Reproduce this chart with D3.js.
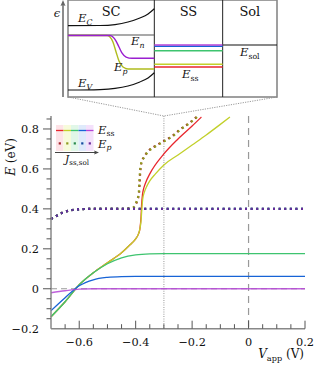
<!DOCTYPE html>
<html>
<head>
<meta charset="utf-8">
<script src="https://cdn.jsdelivr.net/npm/d3@7"></script>
<style>
  body { margin: 0; background: #fff; }
</style>
</head>
<body>
<div id="vis"></div>
<script>
// Display constants
var viewWidth = 316
var viewHeight = 366
var fontFamily = "'DejaVu Serif', serif"

// ---- main plot data: [V_app (V), E (eV)] ----
var seriesNames = ["red", "yellow", "green", "blue", "purple"]
var lineColors = ["#e8262d", "#c2d02a", "#3ec46f", "#1763d6", "#b444d6"]
var dotColors = ["#a32228", "#8f9a1e", "#2a8a4d", "#154a9e", "#652a98"]
var paleColors = ["#fde3e7", "#f7fbdb", "#e1f7e8", "#dfeafb", "#f4e1fb"]

var essRed = [[-0.7,-0.14],[-0.65,-0.065],[-0.6,0.02],[-0.55,0.08],[-0.5,0.13],[-0.45,0.18],[-0.42,0.22],[-0.4,0.25],[-0.39,0.275],[-0.385,0.30],[-0.381,0.36],[-0.379,0.42],[-0.376,0.47],[-0.372,0.5],[-0.365,0.53],[-0.35,0.575],[-0.3,0.675],[-0.25,0.75],[-0.2,0.815],[-0.167,0.86]]
var essYellow = [[-0.7,-0.14],[-0.65,-0.065],[-0.6,0.02],[-0.55,0.08],[-0.5,0.13],[-0.45,0.18],[-0.42,0.22],[-0.4,0.25],[-0.39,0.275],[-0.385,0.30],[-0.381,0.34],[-0.378,0.40],[-0.375,0.45],[-0.37,0.48],[-0.36,0.515],[-0.35,0.54],[-0.33,0.575],[-0.3,0.62],[-0.25,0.67],[-0.2,0.72],[-0.15,0.77],[-0.1,0.823],[-0.066,0.86]]
var essGreen = [[-0.7,-0.14],[-0.65,-0.065],[-0.6,0.02],[-0.55,0.08],[-0.5,0.125],[-0.45,0.155],[-0.4,0.17],[-0.35,0.175],[-0.3,0.176],[0.2,0.176]]
var essBlue = [[-0.7,-0.11],[-0.65,-0.045],[-0.6,0.015],[-0.55,0.045],[-0.5,0.057],[-0.45,0.061],[-0.4,0.062],[0.2,0.062]]
var essPurple = [[-0.7,-0.02],[-0.65,-0.01],[-0.6,-0.002],[-0.55,0],[0.2,0]]

var epFlat = [[-0.7,0.35],[-0.68,0.365],[-0.66,0.38],[-0.64,0.39],[-0.6,0.398],[-0.55,0.40],[0.2,0.40]]
var epRed = [[-0.7,0.35],[-0.68,0.365],[-0.66,0.38],[-0.64,0.39],[-0.6,0.398],[-0.55,0.40],[-0.45,0.40],[-0.41,0.405],[-0.395,0.44],[-0.388,0.48],[-0.386,0.53],[-0.384,0.58],[-0.38,0.63],[-0.37,0.66],[-0.355,0.69],[-0.33,0.715],[-0.3,0.74],[-0.27,0.765],[-0.24,0.8],[-0.21,0.83],[-0.18,0.865]]
var epYellow = [[-0.7,0.35],[-0.68,0.365],[-0.66,0.38],[-0.64,0.39],[-0.6,0.398],[-0.55,0.40],[-0.45,0.40],[-0.41,0.406],[-0.396,0.44],[-0.389,0.48],[-0.387,0.53],[-0.385,0.58],[-0.381,0.625],[-0.371,0.656],[-0.356,0.686],[-0.331,0.712],[-0.301,0.737],[-0.271,0.762],[-0.241,0.797],[-0.211,0.827],[-0.181,0.862]]

var essSeries = [essRed, essYellow, essGreen, essBlue, essPurple]
var epSeries = [epRed, epYellow, epFlat, epFlat, epFlat]

var xTickLabels = [-0.6, -0.4, -0.2, 0, 0.2]
var yTickLabels = [-0.2, 0, 0.2, 0.4, 0.6, 0.8]
var xMinorTicks = d3.range(-0.65, 0.201, 0.05)
var yMinorTicks = d3.range(-0.15, 0.86, 0.05)
var markerV = [-0.3, 0]   // dotted and dashed verticals

// ---- inset schematic data: [position (0-100), energy (0-1)] ----
var sectionEdges = [0, 41.3, 74, 100]
var sectionNames = ["SC", "SS", "Sol"]
var bandEC = [[0,0.735],[15.3,0.737],[22.5,0.747],[28.7,0.773],[34.4,0.814],[38.3,0.856],[41.3,0.91]]
var bandEV = [[0,0.072],[15.3,0.077],[22.5,0.088],[28.7,0.113],[34.4,0.155],[38.3,0.196],[41.3,0.25]]
var fermiDark = 0.639
var quasiEn = [[0,0.634],[20.1,0.634],[21.5,0.619],[23,0.577],[24.4,0.515],[25.8,0.454],[27.8,0.412],[30.6,0.399],[41.3,0.399]]
var quasiEp = [[0,0.634],[18.7,0.634],[20.1,0.619],[21.5,0.567],[23,0.464],[24.4,0.371],[26.3,0.309],[28.7,0.289],[41.3,0.289]]
var ssLevels = [0.309, 0.337, 0.477, 0.523, 0.536]   // red, yellow, green, blue, purple
var solLevel = 0.536

var svg = d3.select("#vis").append("svg")
  .attr("width", viewWidth)
  .attr("height", viewHeight)
  .attr("font-family", fontFamily)
  .style("font-family", fontFamily)

// scales
var xScale = d3.scaleLinear().domain([-0.7, 0.2]).range([51, 305])
var yScale = d3.scaleLinear().domain([-0.2, 0.865]).range([328.7, 116])
var ix = d3.scaleLinear().domain([0, 100]).range([68, 277])
var iy = d3.scaleLinear().domain([0, 1]).range([97, 0])

var line = d3.line().x(d => xScale(d[0])).y(d => yScale(d[1])).curve(d3.curveMonotoneX)
var iline = d3.line().x(d => ix(d[0])).y(d => iy(d[1])).curve(d3.curveMonotoneX)

function subText(g, x, y, main, sub, size, subItalic, anchor) {
  var t = g.append("text").attr("x", x).attr("y", y)
    .attr("font-size", size).attr("text-anchor", anchor || "start").attr("fill", "#111")
  t.append("tspan").attr("font-style", "italic").text(main)
  t.append("tspan").attr("font-size", size * 0.68).attr("dy", size * 0.25)
    .attr("font-style", subItalic ? "italic" : "normal").text(sub)
  return t
}

// ---- reference lines ----
svg.append("line")
  .attr("x1", xScale(-0.7)).attr("x2", xScale(0.2))
  .attr("y1", yScale(0)).attr("y2", yScale(0))
  .attr("stroke", "#999").attr("stroke-width", 1.1).attr("stroke-dasharray", "6,4")
svg.append("line")
  .attr("x1", xScale(markerV[0])).attr("x2", xScale(markerV[0]))
  .attr("y1", yScale(0.865)).attr("y2", yScale(-0.2))
  .attr("stroke", "#aaa").attr("stroke-width", 1.2).attr("stroke-dasharray", "1,1.3")
svg.append("line")
  .attr("x1", xScale(markerV[1])).attr("x2", xScale(markerV[1]))
  .attr("y1", yScale(0.865)).attr("y2", yScale(-0.2))
  .attr("stroke", "#999").attr("stroke-width", 1.2).attr("stroke-dasharray", "7,5")

// zoom lines from inset to the marker
;[0, 100].forEach(function(p) {
  svg.append("line")
    .attr("x1", ix(p)).attr("y1", iy(0))
    .attr("x2", xScale(markerV[0])).attr("y2", yScale(0.865))
    .attr("stroke", "#999").attr("stroke-width", 1).attr("stroke-dasharray", "1.2,1.2")
})

// ---- curves ----
essSeries.forEach(function(s, i) {
  svg.append("path").datum(s)
    .attr("d", line).attr("fill", "none")
    .attr("stroke", lineColors[i]).attr("stroke-width", 1.3)
    .attr("opacity", i === 4 ? 0.85 : 1)
})
epSeries.forEach(function(s, i) {
  svg.append("path").datum(s)
    .attr("d", line).attr("fill", "none")
    .attr("stroke", dotColors[i]).attr("stroke-width", 2.2)
    .attr("stroke-dasharray", "2,3.6")
})

// ---- axes ----
var axisColor = "#888"
var ax = svg.append("g")
ax.append("line").attr("x1", xScale(-0.7)).attr("x2", xScale(-0.7))
  .attr("y1", yScale(0.865)).attr("y2", yScale(-0.2))
  .attr("stroke", axisColor).attr("stroke-width", 1.5)
ax.append("line").attr("x1", xScale(-0.7)).attr("x2", xScale(0.2))
  .attr("y1", yScale(-0.2)).attr("y2", yScale(-0.2))
  .attr("stroke", axisColor).attr("stroke-width", 1.5)

ax.selectAll(".xminor").data(xMinorTicks).enter().append("line")
  .attr("x1", d => xScale(d)).attr("x2", d => xScale(d))
  .attr("y1", yScale(-0.2)).attr("y2", d => yScale(-0.2) - (xTickLabels.some(t => Math.abs(t - d) < 1e-6) ? 8 : 4.5))
  .attr("stroke", "#555").attr("stroke-width", 1)
ax.selectAll(".yminor").data(yMinorTicks).enter().append("line")
  .attr("y1", d => yScale(d)).attr("y2", d => yScale(d))
  .attr("x1", xScale(-0.7)).attr("x2", d => xScale(-0.7) - (yTickLabels.some(t => Math.abs(t - d) < 1e-6) ? 8 : 4.5))
  .attr("stroke", "#555").attr("stroke-width", 1)

var fmt = d => d === 0 ? "0" : (d < 0 ? "\u2212" : "") + Math.abs(d).toFixed(1)
ax.selectAll(".xl").data(xTickLabels).enter().append("text")
  .attr("x", d => xScale(d)).attr("y", 345.5).attr("fill", "#111")
  .attr("text-anchor", "middle").attr("font-size", 11.3).text(fmt)
ax.selectAll(".yl").data(yTickLabels).enter().append("text")
  .attr("x", 39).attr("y", d => yScale(d) + 4.2).attr("fill", "#111")
  .attr("text-anchor", "end").attr("font-size", 11.3).text(fmt)

// axis titles
var yt = svg.append("text").attr("transform", "translate(15,157) rotate(-90)")
  .attr("text-anchor", "middle").attr("font-size", 12).attr("fill", "#111")
yt.append("tspan").attr("font-style", "italic").text("E")
yt.append("tspan").text(" (eV)")
var xt = subText(svg, 304, 358, "V", "app", 12, false, "end")
xt.append("tspan").attr("dy", -12 * 0.25).attr("font-size", 12).attr("font-style", "normal").text(" (V)")

// ---- legend ----
var lg = svg.append("g")
var bandW = 7.5
paleColors.forEach(function(c, i) {
  lg.append("rect").attr("x", 56 + i * bandW).attr("y", 125)
    .attr("width", bandW).attr("height", 26).attr("fill", c)
})
lineColors.forEach(function(c, i) {
  lg.append("line").attr("x1", 56 + i * bandW).attr("x2", 56 + (i + 1) * bandW)
    .attr("y1", 130.5).attr("y2", 130.5).attr("stroke", c).attr("stroke-width", 1.3)
  lg.append("rect").attr("x", 56 + i * bandW + 2.7).attr("y", 142.3)
    .attr("width", 2.2).attr("height", 2.2).attr("fill", dotColors[i])
})
lg.append("line").attr("x1", 55).attr("x2", 96).attr("y1", 152.5).attr("y2", 152.5)
  .attr("stroke", "#444").attr("stroke-width", 1)
lg.append("path").attr("d", "M99,152.5 L94,150.5 L95,152.5 L94,154.5 Z").attr("fill", "#444")
subText(lg, 98, 133.5, "E", "ss", 11.5, false)
subText(lg, 98, 147.5, "E", "p", 11.5, true)
subText(lg, 65, 162.5, "J", "ss,sol", 10.5, false)

// ---- inset ----
var ins = svg.append("g")
ins.append("rect").attr("x", ix(0)).attr("y", iy(1))
  .attr("width", ix(100) - ix(0)).attr("height", iy(0) - iy(1))
  .attr("fill", "#fff").attr("stroke", "#888").attr("stroke-width", 1.6)
sectionEdges.slice(1, 3).forEach(function(e) {
  ins.append("line").attr("x1", ix(e)).attr("x2", ix(e))
    .attr("y1", iy(0)).attr("y2", iy(1)).attr("stroke", "#222").attr("stroke-width", 1)
})
sectionNames.forEach(function(n, i) {
  ins.append("text").attr("x", (ix(sectionEdges[i]) + ix(sectionEdges[i + 1])) / 2)
    .attr("y", 16).attr("text-anchor", "middle").attr("font-size", 13).attr("fill", "#111").text(n)
})
// energy arrow
ins.append("line").attr("x1", 63).attr("x2", 63).attr("y1", iy(0)).attr("y2", 5)
  .attr("stroke", "#666").attr("stroke-width", 1.5)
ins.append("path").attr("d", "M63,0 L60.5,6 L63,5 L65.5,6 Z").attr("fill", "#666")
ins.append("text").attr("x", 57).attr("y", 17).attr("text-anchor", "middle").attr("fill", "#111")
  .attr("font-size", 11.5).attr("font-style", "italic").text("\u03f5")

// SC region
ins.append("line").attr("x1", ix(0)).attr("x2", ix(sectionEdges[1]))
  .attr("y1", iy(fermiDark)).attr("y2", iy(fermiDark)).attr("stroke", "#555").attr("stroke-width", 1.2)
ins.append("path").datum(bandEC).attr("d", iline).attr("fill", "none").attr("stroke", "#111").attr("stroke-width", 1.2)
ins.append("path").datum(bandEV).attr("d", iline).attr("fill", "none").attr("stroke", "#111").attr("stroke-width", 1.2)
ins.append("path").datum(quasiEp).attr("d", iline).attr("fill", "none").attr("stroke", "#b0bc1e").attr("stroke-width", 1.4)
ins.append("path").datum(quasiEn).attr("d", iline).attr("fill", "none").attr("stroke", "#9a1fd0").attr("stroke-width", 1.4)

// SS levels
ssLevels.forEach(function(l, i) {
  ins.append("line").attr("x1", ix(sectionEdges[1])).attr("x2", ix(sectionEdges[2]))
    .attr("y1", iy(l)).attr("y2", iy(l))
    .attr("stroke", lineColors[i]).attr("stroke-width", 1.5)
})
// solution level
ins.append("line").attr("x1", ix(sectionEdges[2])).attr("x2", ix(100))
  .attr("y1", iy(solLevel)).attr("y2", iy(solLevel)).attr("stroke", "#111").attr("stroke-width", 1.2)

subText(ins, 78, 22, "E", "C", 11.5, true)
subText(ins, 78, 87, "E", "V", 11.5, true)
subText(ins, 131, 45, "E", "n", 11.5, true)
subText(ins, 114, 71, "E", "p", 11.5, true)
subText(ins, 182, 78, "E", "ss", 11.5, false)
subText(ins, 240, 56, "E", "sol", 11.5, false)
</script>
</body>
</html>
